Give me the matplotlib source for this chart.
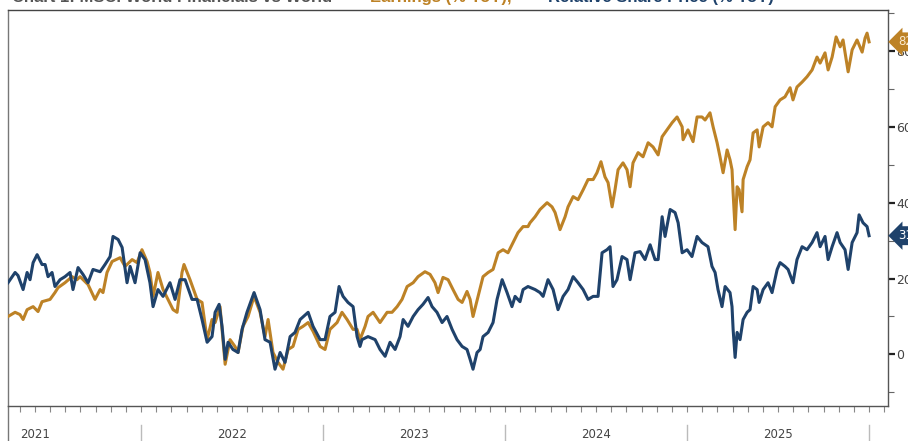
import matplotlib
matplotlib.use("Agg")
import matplotlib.pyplot as plt
import matplotlib.transforms as mtransforms

# ---------------- data (decimal years, % values) ----------------
navy_t = [2021.269, 2021.308, 2021.324, 2021.352, 2021.374, 2021.390, 2021.407, 2021.429, 2021.456, 2021.473,
          2021.489, 2021.511, 2021.527, 2021.555, 2021.582, 2021.610, 2021.626, 2021.654, 2021.681, 2021.709,
          2021.736, 2021.775, 2021.802, 2021.830, 2021.846, 2021.874, 2021.896, 2021.923, 2021.940, 2021.967,
          2021.995, 2022.022, 2022.049, 2022.066, 2022.093, 2022.121, 2022.159, 2022.187, 2022.214, 2022.242,
          2022.280, 2022.308, 2022.335, 2022.363, 2022.390, 2022.407, 2022.429, 2022.445, 2022.462, 2022.478,
          2022.505, 2022.533, 2022.555, 2022.582, 2022.621, 2022.654, 2022.681, 2022.709, 2022.736, 2022.764,
          2022.791, 2022.819, 2022.846, 2022.874, 2022.918, 2022.945, 2022.984, 2023.011, 2023.038, 2023.066,
          2023.088, 2023.110, 2023.137, 2023.165, 2023.187, 2023.203, 2023.214, 2023.247, 2023.286, 2023.313,
          2023.341, 2023.368, 2023.396, 2023.423, 2023.440, 2023.467, 2023.495, 2023.522, 2023.549, 2023.577,
          2023.599, 2023.626, 2023.654, 2023.681, 2023.709, 2023.736, 2023.764, 2023.791, 2023.808, 2023.824,
          2023.846, 2023.863, 2023.879, 2023.907, 2023.934, 2023.956, 2023.984, 2024.011, 2024.038, 2024.055,
          2024.082, 2024.099, 2024.126, 2024.165, 2024.192, 2024.209, 2024.236, 2024.264, 2024.291, 2024.319,
          2024.346, 2024.374, 2024.401, 2024.429, 2024.456, 2024.484, 2024.511, 2024.533, 2024.560, 2024.577,
          2024.593, 2024.615, 2024.643, 2024.670, 2024.687, 2024.714, 2024.742, 2024.769, 2024.797, 2024.824,
          2024.841, 2024.863, 2024.879, 2024.907, 2024.934, 2024.951, 2024.973, 2025.000, 2025.027, 2025.055,
          2025.082, 2025.115, 2025.137, 2025.154, 2025.170, 2025.192, 2025.209, 2025.236, 2025.247, 2025.253,
          2025.264, 2025.275, 2025.291, 2025.308, 2025.330, 2025.346, 2025.363, 2025.385, 2025.396, 2025.418,
          2025.445, 2025.467, 2025.495, 2025.511, 2025.538, 2025.555, 2025.582, 2025.604, 2025.632, 2025.659,
          2025.687, 2025.714, 2025.731, 2025.758, 2025.775, 2025.797, 2025.824, 2025.841, 2025.868, 2025.885,
          2025.907, 2025.934, 2025.945, 2025.967, 2025.989, 2026.000]
navy_v = [18.9, 21.6, 20.8, 17.1, 21.6, 19.7, 24.2, 26.3, 23.7, 23.7,
          20.5, 21.6, 17.9, 19.7, 20.5, 21.6, 17.1, 22.9, 21.1, 18.9,
          22.4, 21.8, 23.7, 25.8, 31.1, 30.3, 28.2, 18.9, 23.2, 18.9,
          26.8, 25.0, 18.9, 12.6, 17.1, 15.3, 18.9, 14.5, 19.7, 19.7,
          14.5, 14.5, 9.2, 3.2, 4.7, 11.1, 13.2, 7.4, -1.3, 3.2,
          1.3, 0.5, 6.6, 11.1, 16.3, 11.8, 3.9, 3.2, -3.9, 0.5,
          -2.1, 4.7, 5.8, 9.2, 11.1, 7.4, 3.9, 3.9, 10.0, 11.1,
          17.9, 15.3, 13.7, 12.6, 4.7, 2.1, 3.9, 4.7, 3.9, 1.3,
          -0.5, 3.2, 1.3, 4.7, 9.2, 7.4, 10.0, 11.8, 13.2, 15.0,
          12.6, 11.1, 8.4, 10.0, 6.6, 3.9, 2.1, 1.3, -1.3, -3.9,
          0.5, 1.3, 4.7, 5.8, 8.4, 14.5, 19.7, 16.3, 12.6, 15.3,
          13.9, 17.1, 17.9, 17.1, 16.3, 15.3, 19.7, 17.1, 11.8, 15.3,
          17.1, 20.5, 18.9, 17.1, 14.5, 15.3, 15.3, 26.8, 27.6, 28.4,
          17.9, 19.7, 25.8, 25.0, 19.7, 26.8, 27.1, 25.0, 28.9, 25.0,
          25.0, 36.3, 31.1, 38.2, 37.4, 34.7, 26.8, 27.6, 25.8, 31.1,
          29.5, 28.4, 23.2, 21.6, 17.1, 12.6, 17.9, 16.3, 12.6, 6.6,
          -0.8, 5.8, 3.9, 9.2, 11.1, 11.8, 17.9, 17.1, 13.7, 17.1,
          18.9, 16.3, 22.4, 24.2, 23.2, 22.4, 18.9, 25.0, 28.4, 27.6,
          29.5, 32.1, 28.4, 31.1, 25.0, 28.4, 32.1, 29.5, 27.6, 22.4,
          29.5, 32.1, 36.8, 34.7, 33.7, 31.3]

orange_t = [2021.269, 2021.308, 2021.335, 2021.352, 2021.374, 2021.407, 2021.434, 2021.456, 2021.500, 2021.527,
            2021.544, 2021.582, 2021.621, 2021.648, 2021.665, 2021.709, 2021.747, 2021.775, 2021.791, 2021.813,
            2021.841, 2021.885, 2021.912, 2021.951, 2021.978, 2022.005, 2022.033, 2022.049, 2022.066, 2022.093,
            2022.121, 2022.148, 2022.176, 2022.198, 2022.225, 2022.236, 2022.269, 2022.308, 2022.335, 2022.363,
            2022.390, 2022.407, 2022.434, 2022.462, 2022.489, 2022.516, 2022.533, 2022.560, 2022.588, 2022.621,
            2022.654, 2022.681, 2022.698, 2022.725, 2022.753, 2022.780, 2022.808, 2022.835, 2022.863, 2022.890,
            2022.918, 2022.945, 2022.984, 2023.011, 2023.038, 2023.077, 2023.104, 2023.132, 2023.165, 2023.187,
            2023.203, 2023.231, 2023.247, 2023.275, 2023.313, 2023.352, 2023.379, 2023.407, 2023.434, 2023.462,
            2023.495, 2023.522, 2023.560, 2023.588, 2023.615, 2023.632, 2023.659, 2023.687, 2023.714, 2023.742,
            2023.764, 2023.791, 2023.808, 2023.824, 2023.852, 2023.879, 2023.907, 2023.934, 2023.962, 2023.989,
            2024.016, 2024.044, 2024.071, 2024.099, 2024.126, 2024.137, 2024.165, 2024.192, 2024.231, 2024.258,
            2024.275, 2024.302, 2024.330, 2024.346, 2024.374, 2024.401, 2024.429, 2024.456, 2024.484, 2024.505,
            2024.527, 2024.549, 2024.566, 2024.588, 2024.604, 2024.621, 2024.648, 2024.670, 2024.687, 2024.703,
            2024.731, 2024.758, 2024.786, 2024.813, 2024.841, 2024.863, 2024.890, 2024.918, 2024.945, 2024.973,
            2024.978, 2025.005, 2025.033, 2025.055, 2025.082, 2025.099, 2025.126, 2025.143, 2025.165, 2025.181,
            2025.198, 2025.220, 2025.236, 2025.247, 2025.253, 2025.264, 2025.275, 2025.286, 2025.302, 2025.308,
            2025.330, 2025.346, 2025.363, 2025.385, 2025.396, 2025.418, 2025.445, 2025.467, 2025.484, 2025.511,
            2025.538, 2025.566, 2025.582, 2025.604, 2025.632, 2025.659, 2025.687, 2025.714, 2025.731, 2025.758,
            2025.775, 2025.797, 2025.819, 2025.841, 2025.857, 2025.885, 2025.907, 2025.934, 2025.962, 2025.978,
            2025.989, 2026.000]
orange_v = [10.0, 11.1, 10.5, 9.2, 11.8, 12.6, 11.3, 13.9, 14.5, 16.3,
            17.6, 18.9, 20.5, 19.7, 20.5, 18.4, 14.5, 17.1, 16.3, 21.6,
            24.5, 25.5, 23.2, 25.0, 24.2, 27.6, 24.5, 21.6, 15.3, 21.6,
            17.1, 14.5, 11.8, 11.1, 21.6, 23.7, 19.7, 14.5, 13.7, 3.9,
            9.2, 8.4, 12.6, -2.6, 3.9, 2.1, 0.5, 7.4, 10.0, 15.3,
            11.1, 4.7, 9.2, 0.5, -2.1, -3.9, 1.3, 2.1, 6.6, 7.4,
            8.4, 6.1, 2.1, 1.3, 6.6, 8.4, 11.1, 9.2, 6.6, 6.6,
            3.9, 7.4, 10.0, 11.1, 8.4, 11.1, 11.1, 12.6, 14.5, 17.9,
            18.9, 20.5, 21.8, 21.1, 18.9, 16.3, 20.3, 19.7, 17.1, 14.5,
            13.7, 16.6, 14.5, 10.0, 15.3, 20.5, 21.6, 22.4, 26.8, 27.6,
            26.8, 29.5, 32.1, 33.7, 33.7, 34.7, 36.3, 38.2, 40.0, 38.9,
            37.4, 32.9, 36.3, 38.9, 41.6, 40.8, 43.4, 46.1, 46.1, 47.9,
            50.8, 46.8, 45.3, 38.9, 43.4, 48.7, 50.5, 48.7, 44.2, 50.5,
            53.2, 52.1, 55.8, 54.7, 52.6, 57.4, 59.2, 61.1, 62.6, 60.0,
            56.6, 59.2, 56.1, 62.6, 62.6, 61.8, 63.7, 60.0, 55.8, 52.1,
            47.9, 53.9, 51.3, 48.7, 42.6, 32.9, 44.2, 43.4, 37.6, 46.1,
            49.5, 51.3, 58.4, 59.2, 54.7, 60.0, 61.1, 60.0, 65.3, 67.1,
            67.9, 70.3, 67.1, 70.5, 71.8, 73.2, 75.0, 78.4, 76.8, 79.5,
            75.0, 78.4, 83.7, 81.1, 82.9, 74.5, 80.3, 82.9, 79.7, 83.4,
            84.7, 82.4]

years = [2021, 2022, 2023, 2024, 2025]
year_label_x = [2021.42, 2022.5, 2023.5, 2024.5, 2025.5]
y_major = [0, 20, 40, 60, 80]
y_minor = [-10, 10, 30, 50, 70, 90]

ORANGE = "#BD8226"
NAVY = "#1F426B"

# ---------------- figure ----------------
W, H = 908, 441
fig = plt.figure(figsize=(W / 100, H / 100), dpi=100)
ax = fig.add_axes([8 / W, 1 - 406 / H, (888 - 8) / W, (406 - 10) / H])

xmin, xmax = 2021.269, 2026.104
ax.set_xlim(xmin, xmax)
ax.set_ylim(-13.6, 90.8)

ax.plot(orange_t, orange_v, color=ORANGE, lw=2.2, solid_joinstyle="round", zorder=3)
ax.plot(navy_t, navy_v, color=NAVY, lw=2.2, solid_joinstyle="round", zorder=4)

for side in ["left", "right", "top", "bottom"]:
    ax.spines[side].set_linewidth(1.0)
ax.spines["left"].set_color("#777777")
ax.spines["top"].set_color("#444444")
ax.spines["right"].set_color("#555555")
ax.spines["bottom"].set_color("#555555")

# right y axis
ax.yaxis.tick_right()
ax.set_yticks(y_major)
ax.set_yticks(y_minor, minor=True)
ax.set_yticklabels([str(v) for v in y_major])
ax.tick_params(axis="y", which="major", direction="out", length=5, width=1.6,
               color="#222222", labelsize=9, labelcolor="#444444", pad=1)
ax.tick_params(axis="y", which="minor", direction="out", length=4, width=0.8, color="#666666")
for lab in ax.get_yticklabels():
    lab.set_family(["Liberation Sans Narrow", "DejaVu Sans"])

# bottom monthly ticks
months = [2021 + k / 12 for k in range(4, 62)]
ax.set_xticks([])
ax.set_xticks(months, minor=True)
ax.tick_params(axis="x", which="minor", direction="out", length=4, width=0.8, color="#888888")
ax.tick_params(axis="x", which="major", length=0)

trans = mtransforms.blended_transform_factory(ax.transData, ax.transAxes)
for yr in years[1:] + [2026]:
    ax.plot([yr, yr], [-0.048, -0.12], transform=trans, clip_on=False, color="#bbbbbb", lw=1.0)
ax.plot([xmin, xmin], [0, -0.12], transform=trans, clip_on=False, color="#777777", lw=1.0)
for yr, xl in zip(years, year_label_x):
    ax.text(xl, -0.071, str(yr), transform=trans, ha="center", va="center", fontsize=8.5,
            color="#444444", family=["Liberation Sans Narrow", "DejaVu Sans"])

# end-value tags
transR = mtransforms.blended_transform_factory(ax.transAxes, ax.transData)
ax.text(1.012, orange_v[-1], f"{orange_v[-1]:.1f}", transform=transR, ha="left", va="center",
        fontsize=8.5, color="#FBEBD0", clip_on=False,
        family=["Liberation Sans Narrow", "DejaVu Sans"],
        bbox=dict(boxstyle="larrow,pad=0.25", fc=ORANGE, ec="none"))
ax.text(1.012, navy_v[-1], f"{navy_v[-1]:.1f}", transform=transR, ha="left", va="center",
        fontsize=8.5, color="white", clip_on=False,
        family=["Liberation Sans Narrow", "DejaVu Sans"],
        bbox=dict(boxstyle="larrow,pad=0.25", fc=NAVY, ec="none"))

# title (largely cut off at the top edge, as in the reference)
parts = [("Chart 1: MSCI World Financials vs World ", "#555555"),
         ("Earnings (% YoY), ", ORANGE),
         ("Relative Share Price (% YoY)", NAVY)]
x0 = [12 / W, 370 / W, 548 / W]
for (txt, col), xx in zip(parts, x0):
    fig.text(xx, 1 - 2 / H, txt, ha="left", va="baseline", fontsize=12, fontweight="bold",
             color=col, family=["Liberation Sans", "DejaVu Sans"])

fig.savefig("out.png", dpi=100)
